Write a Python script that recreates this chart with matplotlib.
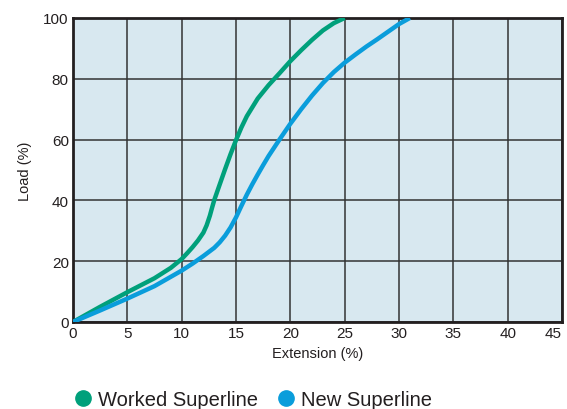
import matplotlib
matplotlib.use("Agg")
import matplotlib.pyplot as plt
from matplotlib.lines import Line2D

plt.rcParams['font.family'] = ['Liberation Sans', 'DejaVu Sans']

# Data
worked_x = [0, 2.5, 5, 7.5, 9, 10, 10.5, 11, 11.5, 12, 12.3, 12.6, 12.8, 13, 13.4, 14, 14.5, 15,
            15.5, 16, 17, 18, 19, 20, 21, 22, 23, 24, 25]
worked_y = [0, 5, 9.8, 14.4, 17.8, 20.7, 22.6, 24.6, 26.8, 29.4, 31.8, 35, 37.6, 40.1, 44.2, 50.3,
            55.2, 59.8, 64, 67.7, 73.5, 77.9, 81.8, 85.8, 89.4, 92.8, 95.9, 98.3, 100]

new_x = [0, 2.5, 5, 7.5, 10, 11, 12, 13, 13.5, 14, 14.5, 15, 15.5, 16, 16.5, 17, 17.5, 18,
         19, 20, 21, 22, 23, 24, 25, 26, 27, 28, 29, 30, 31]
new_y = [0, 3.8, 7.7, 11.8, 16.9, 19.2, 21.7, 24.4, 26.2, 28.4, 31.1, 34.4, 38.2, 41.9, 45.3,
         48.5, 51.6, 54.6, 60, 65.2, 70, 74.5, 78.6, 82.2, 85.3, 88, 90.6, 93, 95.5, 98, 100]

x_ticks = [0, 5, 10, 15, 20, 25, 30, 35, 40, 45]
y_ticks = [0, 20, 40, 60, 80, 100]

green = '#00A07B'
blue = '#0A9DDB'
text_col = '#231F20'

fig = plt.figure(figsize=(5.67, 4.10), dpi=100)
ax = fig.add_axes([0.1287, 0.2122, 0.8625, 0.7415])
ax.set_facecolor('#D8E8F0')

ax.plot(worked_x, worked_y, color=green, lw=3.2, solid_capstyle='butt', zorder=3)
ax.plot(new_x, new_y, color=blue, lw=3.2, solid_capstyle='butt', zorder=3)

ax.set_xlim(0, 45)
ax.set_ylim(0, 100)
ax.set_xticks(x_ticks)
ax.set_yticks(y_ticks)
ax.grid(True, color='#333333', lw=1.1, zorder=1)
ax.set_axisbelow(True)
ax.tick_params(length=0, labelsize=11, colors=text_col, pad=3)
ax.get_xticklabels()[-1].set_horizontalalignment('right')
for s in ax.spines.values():
    s.set_linewidth(2)
    s.set_color('#231F20')

ax.set_xlabel('Extension (%)', fontsize=10.5, color=text_col, labelpad=4)
ax.set_ylabel('Load (%)', fontsize=10.5, color=text_col, labelpad=8)

handles = [
    Line2D([], [], marker='o', ls='', color=green, markersize=11),
    Line2D([], [], marker='o', ls='', color=blue, markersize=11),
]
fig.legend(handles, ['Worked Superline', 'New Superline'], loc='center left',
           bbox_to_anchor=(0.1287, 0.022), ncol=2, frameon=False, fontsize=14.5,
           handlelength=1.0, handletextpad=0.25, columnspacing=0.9,
           borderpad=0, borderaxespad=0, labelcolor=text_col)

fig.savefig('out.png', dpi=100)
